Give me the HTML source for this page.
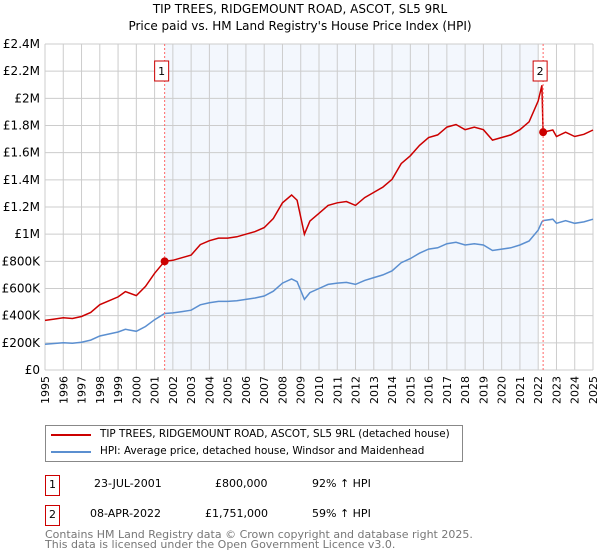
<!DOCTYPE html>
<html><head><meta charset="utf-8"><style>
body{margin:0;background:#fff;font-family:"DejaVu Sans","Liberation Sans",sans-serif;}
#wrap{position:relative;width:600px;height:560px;overflow:hidden}
.t{position:absolute;font-size:12px;color:#000;white-space:nowrap}
</style></head><body><div id="wrap">
<svg id="c" width="600" height="420" style="position:absolute;left:0;top:0"></svg>
<div class="t" style="left:0;width:600px;text-align:center;top:2px">TIP TREES, RIDGEMOUNT ROAD, ASCOT, SL5 9RL</div>
<div class="t" style="left:0;width:600px;text-align:center;top:19px">Price paid vs. HM Land Registry's House Price Index (HPI)</div>
<div style="position:absolute;left:45px;top:425px;width:416px;height:35px;border:1px solid #888">
<div style="position:absolute;left:5px;top:8px;width:40px;height:2px;background:#cc0000"></div>
<div class="t" style="left:54px;top:2px;font-size:10.4px">TIP TREES, RIDGEMOUNT ROAD, ASCOT, SL5 9RL (detached house)</div>
<div style="position:absolute;left:5px;top:25px;width:40px;height:2px;background:#5b8fd0"></div>
<div class="t" style="left:54px;top:19px;font-size:10.4px">HPI: Average price, detached house, Windsor and Maidenhead</div>
</div>
<div style="position:absolute;left:45px;top:475px;width:13px;height:19px;border:1px solid #cc0000;font-size:11px;text-align:center;line-height:18px">1</div>
<div class="t" style="left:94px;top:477px;font-size:11px">23-JUL-2001</div>
<div class="t" style="left:215px;top:477px;font-size:11px">£800,000</div>
<div class="t" style="left:312px;top:477px;font-size:11px">92% ↑ HPI</div>
<div style="position:absolute;left:45px;top:505px;width:13px;height:19px;border:1px solid #cc0000;font-size:11px;text-align:center;line-height:18px">2</div>
<div class="t" style="left:90px;top:507px;font-size:11px">08-APR-2022</div>
<div class="t" style="left:205px;top:507px;font-size:11px">£1,751,000</div>
<div class="t" style="left:312px;top:507px;font-size:11px">59% ↑ HPI</div>
<div class="t" style="left:45px;top:530px;font-size:11px;color:#777;line-height:10px">Contains HM Land Registry data © Crown copyright and database right 2025.<br>This data is licensed under the Open Government Licence v3.0.</div>
</div>
<script>
const years=[1995,1995.5,1996,1996.5,1997,1997.5,1998,1998.5,1999,1999.4,2000,2000.5,2001,2001.55,2002,2002.5,2003,2003.5,2004,2004.5,2005,2005.5,2006,2006.5,2007,2007.5,2008,2008.5,2008.8,2009.2,2009.5,2010,2010.5,2011,2011.5,2012,2012.5,2013,2013.5,2014,2014.5,2015,2015.5,2016,2016.5,2017,2017.5,2018,2018.5,2019,2019.5,2020,2020.5,2021,2021.5,2022,2022.2,2022.27,2022.8,2023,2023.5,2024,2024.5,2025];
const hpi=[190,195,200,197,205,220,250,265,280,300,285,320,370,416,420,430,440,480,495,505,505,510,520,530,545,580,640,670,650,520,570,600,630,640,645,630,660,680,700,730,790,820,860,890,900,930,940,920,930,920,880,890,900,920,950,1030,1090,1100,1110,1080,1100,1080,1090,1110];
const sales=[2001.55,2022.27];
const salePrices=[800,1751];
const yTicks=[0,200,400,600,800,1000,1200,1400,1600,1800,2000,2200,2400];
const yLabels=["£0","£200K","£400K","£600K","£800K","£1M","£1.2M","£1.4M","£1.6M","£1.8M","£2M","£2.2M","£2.4M"];
const x0=45,x1=593,y0=370,y1=44;
const X=y=>x0+(y-1995)/30*(x1-x0);
const Y=v=>y0-v/2400*(y0-y1);
const svg=document.getElementById('c');const NS='http://www.w3.org/2000/svg';
function mk(t,a,p){const e=document.createElementNS(NS,t);for(const k in a)e.setAttribute(k,a[k]);(p||svg).appendChild(e);return e;}
let r=mk('rect',{x:X(sales[0]),y:y1,width:X(sales[1])-X(sales[0])-5,height:y0-y1,fill:'#eef3fc',opacity:0.7});


for(let yr=1995;yr<=2025;yr++){const l=mk('line',{x1:X(yr),x2:X(yr),y1:y1,y2:y0,stroke:'#cccccc','stroke-width':1});


const t=mk('text',{x:0,y:0,'font-size':11,'text-anchor':'end',transform:`translate(${X(yr)+4},376) rotate(-90)`});t.textContent=yr;

}
yTicks.forEach((v,i)=>{const l=mk('line',{x1:x0,x2:x1,y1:Y(v),y2:Y(v),stroke:'#cccccc','stroke-width':1});


const t=mk('text',{x:40,y:Y(v)+4,'font-size':12,'text-anchor':'end'});t.textContent=yLabels[i];

});
function interp(y){for(let i=1;i<years.length;i++)if(years[i]>=y){const f=(y-years[i-1])/(years[i]-years[i-1]);return hpi[i-1]+f*(hpi[i]-hpi[i-1]);}return hpi[hpi.length-1];}
const f1=salePrices[0]/interp(sales[0]),f2=salePrices[1]/interp(sales[1]);
let bp='',rp='';
years.forEach((y,i)=>{bp+=(i?'L':'M')+X(y).toFixed(1)+','+Y(hpi[i]).toFixed(1);
const f=y<sales[1]?f1:f2;rp+=(i?'L':'M')+X(y).toFixed(1)+','+Y(hpi[i]*f).toFixed(1);});
const b=mk('path',{d:bp,fill:'none',stroke:'#5b8fd0','stroke-width':1.5});


const rl=mk('path',{d:rp,fill:'none',stroke:'#cc0000','stroke-width':1.5});


sales.forEach((s,i)=>{const l=mk('line',{x1:X(s),x2:X(s),y1:y1,y2:y0,stroke:'#ff6666','stroke-width':1,'stroke-dasharray':'2,2'});


const c=mk('circle',{cx:X(s),cy:Y(salePrices[i]),r:4,fill:'#cc0000'});


const bx=mk('rect',{x:X(s)-10,y:61,width:14,height:20,fill:'#fff',stroke:'#cc0000'});


const t=mk('text',{x:X(s)-3,y:75,'font-size':11,'text-anchor':'middle'});t.textContent=i+1;

});
</script></body></html>
